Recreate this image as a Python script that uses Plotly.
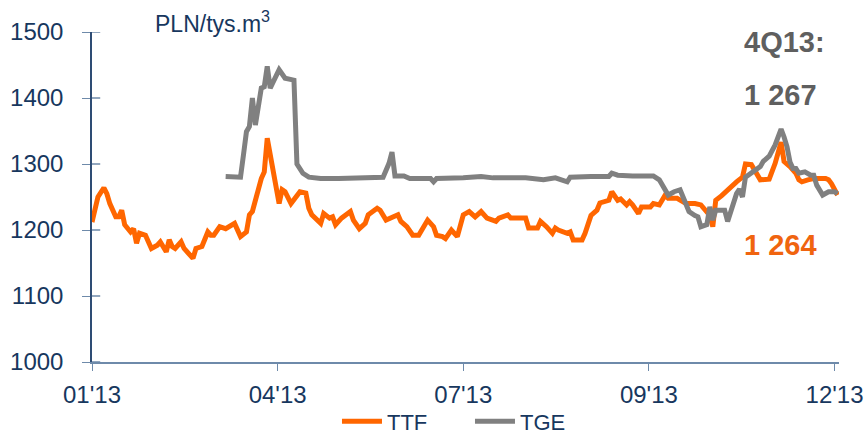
import plotly.graph_objects as go

# Trading-day index within 2013 and gas prices (PLN per thousand m3)
ttf_day = [0, 1, 2, 4, 5, 6, 8, 9, 10, 11, 13, 14, 15, 16, 18, 20, 22, 23, 25, 26,
           27, 28, 30, 31, 32, 34, 35, 37, 39, 40, 41, 43, 45, 48, 50, 52, 53, 54, 57, 58,
           59, 61, 63, 64, 65, 67, 69, 70, 72, 73, 74, 77, 78, 80, 81, 82, 84, 87, 88, 90,
           92, 93, 96, 97, 99, 101, 103, 104, 106, 108, 110, 113, 115, 116, 118, 119, 121, 123, 125, 127,
           129, 131, 133, 136, 137, 140, 141, 146, 147, 150, 151, 153, 155, 156, 157, 160, 161, 162, 165, 166,
           168, 170, 171, 174, 175, 177, 178, 180, 181, 182, 184, 185, 188, 189, 191, 193, 194, 197, 200, 201,
           203, 205, 206, 208, 209, 210, 212, 214, 217, 219, 220, 222, 224, 225, 228, 229, 230, 232, 233, 235,
           237, 238, 239, 241, 243, 245, 247, 248, 249, 251]
ttf_val = [1212, 1235, 1250, 1264, 1255, 1240, 1220, 1220, 1230, 1208, 1197, 1202, 1180, 1195, 1192, 1172, 1177, 1182, 1167, 1185,
           1175, 1172, 1182, 1172, 1167, 1157, 1172, 1175, 1197, 1192, 1192, 1205, 1202, 1210, 1190, 1197, 1223, 1228, 1278, 1288,
           1339, 1293, 1240, 1261, 1258, 1240, 1253, 1258, 1256, 1233, 1223, 1210, 1225, 1218, 1220, 1208, 1218, 1228, 1215, 1202,
           1210, 1223, 1233, 1230, 1215, 1220, 1223, 1213, 1205, 1192, 1192, 1215, 1205, 1192, 1190, 1187, 1200, 1190, 1223, 1228,
           1220, 1228, 1218, 1213, 1218, 1223, 1218, 1218, 1203, 1203, 1213, 1205, 1195, 1203, 1200, 1195, 1197, 1185, 1185, 1195,
           1222, 1230, 1241, 1245, 1258, 1245, 1247, 1238, 1243, 1238, 1225, 1235, 1235, 1240, 1238, 1253, 1248, 1248, 1240, 1240,
           1240, 1238, 1233, 1222, 1205, 1245, 1252, 1261, 1273, 1280, 1300, 1299, 1281, 1276, 1277, 1287, 1301, 1333, 1304, 1296,
           1286, 1276, 1273, 1276, 1278, 1278, 1278, 1276, 1270, 1253]

tge_day = [45, 50, 51, 52, 53, 54, 55, 56, 57, 58, 59, 60, 61, 63, 65, 68, 69, 70, 71, 73,
           77, 83, 90, 98, 100, 101, 102, 105, 107, 114, 115, 116, 125, 131, 135, 146, 152, 156, 160, 161,
           168, 174, 175, 177, 182, 189, 191, 193, 194, 196, 198, 199, 201, 203, 204, 205, 207, 208, 209, 210,
           213, 214, 216, 217, 218, 219, 220, 222, 225, 226, 228, 230, 232, 233, 234, 235, 236, 237, 238, 240,
           242, 243, 244, 246, 248, 250, 251]
tge_val = [1281, 1280, 1314, 1349, 1357, 1400, 1359, 1391, 1415, 1417, 1448, 1415, 1425, 1443, 1430, 1427, 1300, 1292, 1286, 1280,
           1278, 1278, 1279, 1280, 1301, 1318, 1282, 1282, 1278, 1278, 1273, 1278, 1279, 1281, 1279, 1279, 1276, 1279, 1273, 1280,
           1281, 1281, 1286, 1283, 1282, 1282, 1276, 1262, 1253, 1258, 1261, 1250, 1228, 1222, 1220, 1205, 1208, 1235, 1215, 1230,
           1230, 1213, 1240, 1255, 1262, 1250, 1280, 1286, 1296, 1304, 1312, 1329, 1353, 1341, 1326, 1303, 1293, 1293, 1286, 1288,
           1283, 1283, 1268, 1253, 1258, 1258, 1255]

tick_days = [0, 62.5, 125, 187.5, 250]
tick_text = ["01'13", "04'13", "07'13", "09'13", "12'13"]
y_ticks = [1000, 1100, 1200, 1300, 1400, 1500]

NAVY = "#17375E"
FONT = "Liberation Sans, Arial, sans-serif"

fig = go.Figure()
fig.add_trace(go.Scatter(x=ttf_day, y=ttf_val, mode="lines", name="TTF",
                         line=dict(color="#FF6600", width=5)))
fig.add_trace(go.Scatter(x=tge_day, y=tge_val, mode="lines", name="TGE",
                         line=dict(color="#808080", width=5)))

fig.update_xaxes(range=[0, 251.5], tickvals=tick_days, ticktext=tick_text,
                 showgrid=False, zeroline=False, showline=True, linecolor="#6E8AAA",
                 linewidth=1.5, ticks="outside", ticklen=7, tickcolor="#6E8AAA",
                 ticklabelstandoff=3,
                 tickfont=dict(family=FONT, size=24, color=NAVY))
fig.update_yaxes(range=[1000, 1500], tickvals=y_ticks, showgrid=False, zeroline=False,
                 showline=True, linecolor="#2E4C74", linewidth=1.5, ticks="outside",
                 ticklen=8, tickcolor="#6E8AAA", ticklabelstandoff=14,
                 tickfont=dict(family=FONT, size=24, color=NAVY))

# inner half of the y tick marks (ticks cross the axis line)
for v in y_ticks:
    fig.add_shape(type="line", xref="x domain", yref="y", x0=0, x1=0.011, y0=v, y1=v,
                  line=dict(color="#6E8AAA", width=1.5))

fig.add_annotation(text="PLN/tys.m<sup>3</sup>", xref="paper", yref="paper",
                   x=0.082, y=1.03, xanchor="left", yanchor="middle", showarrow=False,
                   font=dict(family=FONT, size=23, color=NAVY))
fig.add_annotation(text="<b>4Q13:</b>", xref="paper", yref="paper", x=0.870, y=0.97,
                   xanchor="left", yanchor="middle", showarrow=False,
                   font=dict(family=FONT, size=29, color="#5F5F5F"))
fig.add_annotation(text="<b>1 267</b>", xref="paper", yref="paper", x=0.870, y=0.809,
                   xanchor="left", yanchor="middle", showarrow=False,
                   font=dict(family=FONT, size=29, color="#5F5F5F"))
fig.add_annotation(text="<b>1 264</b>", xref="paper", yref="paper", x=0.870, y=0.355,
                   xanchor="left", yanchor="middle", showarrow=False,
                   font=dict(family=FONT, size=29, color="#F0640F"))

fig.update_layout(
    width=867, height=436,
    margin=dict(l=92, r=28, t=32, b=74, autoexpand=False),
    plot_bgcolor="white", paper_bgcolor="white",
    showlegend=True,
    legend=dict(orientation="h", x=0.506, y=-0.18, xanchor="center", yanchor="middle",
                font=dict(family=FONT, size=22, color=NAVY), itemwidth=40,
                entrywidth=78, bgcolor="rgba(0,0,0,0)"),
)

fig.write_html("out.html")
